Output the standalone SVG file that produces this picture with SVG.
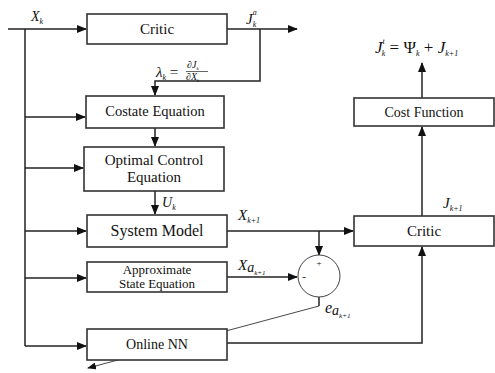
<svg xmlns="http://www.w3.org/2000/svg" width="495" height="373" viewBox="0 0 495 373">
<defs>
<marker id="ah" markerWidth="10" markerHeight="8" refX="9" refY="4" orient="auto" markerUnits="userSpaceOnUse">
<path d="M0,0 L10,4 L0,8 Z" fill="#111"/>
</marker>
<marker id="ahs" markerWidth="9" markerHeight="7" refX="8" refY="3.5" orient="auto" markerUnits="userSpaceOnUse">
<path d="M0,0 L9,3.5 L0,7 Z" fill="#111"/>
</marker>
<style>
.box{fill:#fff;stroke:#333;stroke-width:1.6}
.ln{fill:none;stroke:#222;stroke-width:1.5}
.thin{fill:none;stroke:#333;stroke-width:0.9}
.t{font-size:14px;fill:#111;text-anchor:middle}
.m{font-style:italic;fill:#111}
.s{font-size:8px}
</style>
</defs>
<rect width="495" height="373" fill="#fff"/>
<g id="connectors">
<path class="ln" d="M8,29 H86" marker-end="url(#ah)"/>
<path class="ln" d="M25,29 V346"/>
<path class="ln" d="M25,117 H85" marker-end="url(#ah)"/>
<path class="ln" d="M25,168 H83" marker-end="url(#ah)"/>
<path class="ln" d="M25,231 H86" marker-end="url(#ah)"/>
<path class="ln" d="M25,278 H86" marker-end="url(#ah)"/>
<path class="ln" d="M25,346 H86" marker-end="url(#ah)"/>
<path class="ln" d="M227,29 H297" marker-end="url(#ah)"/>
<path class="ln" d="M260,29 V81 H155 V95" marker-end="url(#ah)"/>
<path class="ln" d="M155,128 V146" marker-end="url(#ah)"/>
<path class="ln" d="M155,191 V214" marker-end="url(#ah)"/>
<path class="ln" d="M227,231 H353" marker-end="url(#ah)"/>
<path class="ln" d="M319,231 V255" marker-end="url(#ah)"/>
<path class="ln" d="M227,277 H297" marker-end="url(#ah)"/>
<path class="ln" d="M319,297 V306"/>
<path class="thin" d="M319,306 L88,368" marker-end="url(#ahs)"/>
<path class="ln" d="M227,343 H422 V247" marker-end="url(#ah)"/>
<path class="ln" d="M422,216 V127" marker-end="url(#ah)"/>
<path class="ln" d="M422,98 V63" marker-end="url(#ah)"/>
</g>
<g font-family="'Liberation Serif', 'Times New Roman', serif">
<g id="critic1">
<rect class="box" x="87" y="14" width="140" height="30"/>
<text class="t" x="157" y="34" style="font-size:15px">Critic</text>
</g>
<g id="costate">
<rect class="box" x="86" y="96" width="138" height="32"/>
<text class="t" x="155" y="116" style="font-size:14.5px">Costate Equation</text>
</g>
<g id="optimal">
<rect class="box" x="84" y="147" width="140" height="44"/>
<text class="t" x="154" y="165" style="font-size:15px">Optimal Control</text>
<text class="t" x="154" y="182" style="font-size:15px">Equation</text>
</g>
<g id="system">
<rect class="box" x="87" y="215" width="140" height="32"/>
<text class="t" x="157" y="236" style="font-size:16px">System Model</text>
</g>
<g id="approx">
<rect class="box" x="87" y="262" width="140" height="30"/>
<text class="t" x="157" y="274" style="font-size:13px">Approximate</text>
<text class="t" x="157" y="288" style="font-size:13px">State Equation</text>
</g>
<g id="online">
<rect class="box" x="87" y="329" width="140" height="31"/>
<text class="t" x="157" y="349">Online NN</text>
</g>
<g id="sum">
<circle cx="319" cy="276" r="21" fill="#fff" stroke="#444" stroke-width="1"/>
<text class="t" x="319" y="266" style="font-size:9px">+</text>
<text class="t" x="304" y="280" style="font-size:11px">-</text>
</g>
<g id="critic2">
<rect class="box" x="354" y="216" width="140" height="30"/>
<text class="t" x="424" y="236" style="font-size:15px">Critic</text>
</g>
<g id="cost">
<rect class="box" x="354" y="98" width="140" height="28"/>
<text class="t" x="424" y="117">Cost Function</text>
</g>
<g id="labels">
<text class="m" x="31" y="21" font-size="14">X<tspan class="s" dy="3">k</tspan></text>
<text class="m" x="246" y="24" font-size="15">J<tspan class="s" dy="-9">a</tspan><tspan class="s" dx="-4" dy="12">k</tspan></text>
<text class="m" x="156" y="77" font-size="15">λ<tspan class="s" dy="3">k</tspan><tspan dy="-3" style="font-style:normal"> =</tspan></text>
<text class="m" x="187" y="68" font-size="10">∂J<tspan font-size="5" dy="2">k</tspan></text>
<line x1="186" y1="71.5" x2="208" y2="71.5" stroke="#222" stroke-width="0.7"/>
<text class="m" x="186" y="80" font-size="10">∂X<tspan font-size="5" dy="2">k</tspan></text>
<text class="m" x="162" y="207" font-size="14">U<tspan class="s" dy="3">k</tspan></text>
<text class="m" x="238" y="220" font-size="15">X<tspan class="s" dy="3">k+1</tspan></text>
<text class="m" x="238" y="270" font-size="15">X<tspan dy="2" font-size="14">a</tspan><tspan font-size="7" dy="3">k+1</tspan></text>
<text class="m" x="325" y="313" font-size="16">e<tspan dy="2" font-size="14">a</tspan><tspan font-size="7" dy="3">k+1</tspan></text>
<text class="m" x="443" y="208" font-size="15">J<tspan class="s" dy="3">k+1</tspan></text>
<text class="m" x="375" y="53" font-size="17">J<tspan font-size="8" dy="-9">t</tspan><tspan font-size="8" dx="-3" dy="12">k</tspan><tspan dy="-3" style="font-style:normal"> = Ψ</tspan><tspan font-size="8" dy="3">k</tspan><tspan dy="-3" style="font-style:normal"> + </tspan>J<tspan font-size="8" dy="3">k+1</tspan></text>
</g>
</g>
</svg>
